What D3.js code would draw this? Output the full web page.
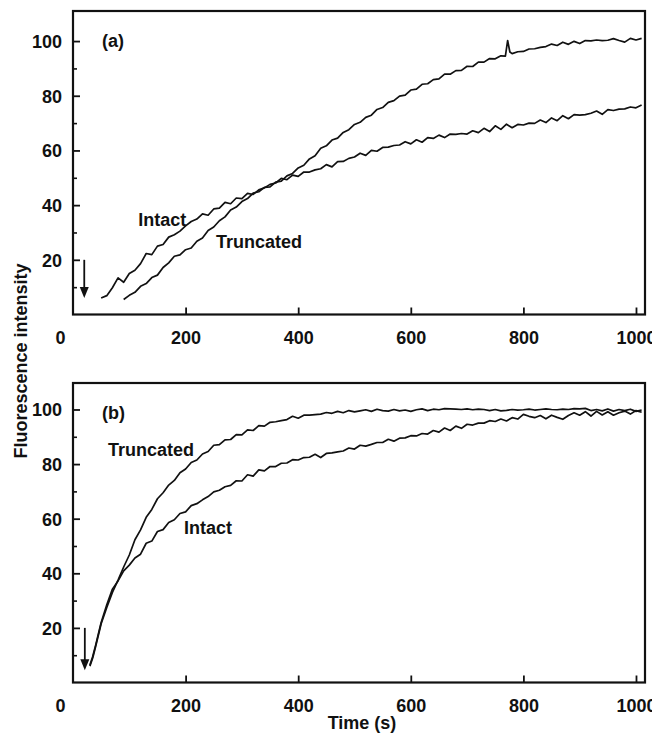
<!DOCTYPE html>
<html>
<head>
<meta charset="utf-8">
<script src="https://cdn.jsdelivr.net/npm/d3@7"></script>
<style>
  html, body { margin: 0; padding: 0; background: #fff; }
  svg text { font-family: "Liberation Sans", Arial, Helvetica, sans-serif; font-weight: bold; fill: #111; }
</style>
</head>
<body>
<svg id="chart" width="652" height="738"></svg>
<script>
// Fluorescence traces, [time (s), intensity]
const aIntact = [[50,6.0],[60,6.9],[70,9.8],[80,13.4],[90,11.8],[100,15.0],[110,16.2],[120,18.6],[130,22.3],[140,21.9],
  [150,25.0],[160,25.6],[170,28.3],[180,29.2],[190,30.5],[200,32.4],[210,34.0],[220,34.9],[230,36.8],[240,36.3],
  [250,38.6],[260,38.9],[270,41.0],[280,40.5],[290,42.6],[300,42.4],[310,44.3],[320,43.9],[330,45.6],[340,46.3],
  [350,47.6],[360,48.1],[370,49.8],[380,49.3],[390,51.0],[400,50.5],[410,52.1],[420,52.1],[430,52.9],[440,53.3],
  [450,54.8],[460,54.0],[470,55.9],[480,56.0],[490,57.1],[500,57.6],[510,59.0],[520,58.2],[530,60.0],[540,59.7],
  [550,61.1],[560,61.2],[570,61.8],[580,62.0],[590,63.2],[600,62.4],[610,63.9],[620,63.0],[630,64.7],[640,64.4],
  [650,65.6],[660,64.7],[670,66.0],[680,65.9],[690,66.2],[700,66.0],[710,67.2],[720,66.5],[730,68.1],[740,66.9],
  [750,69.0],[760,67.7],[770,69.6],[780,68.3],[790,69.5],[800,69.3],[810,70.0],[820,69.9],[830,71.1],[840,70.2],
  [850,71.9],[860,70.9],[870,72.7],[880,71.6],[890,73.1],[900,72.9],[910,73.1],[920,73.6],[930,74.4],[940,73.2],
  [950,74.9],[960,74.6],[970,75.1],[980,75.2],[990,75.9],[1000,75.6],[1010,76.6]];

const aTruncated = [[90,5.5],[100,7.0],[110,8.1],[120,10.3],[130,11.3],[140,13.5],[150,14.4],[160,17.2],[170,18.9],[180,21.3],
  [190,21.8],[200,23.7],[210,24.3],[220,26.8],[230,28.0],[240,30.7],[250,32.0],[260,34.3],[270,35.7],[280,38.2],
  [290,39.3],[300,41.3],[310,42.4],[320,44.4],[330,44.9],[340,46.5],[350,46.7],[360,48.4],[370,48.8],[380,50.7],
  [390,51.6],[400,53.6],[410,54.6],[420,56.9],[430,58.1],[440,60.8],[450,61.7],[460,63.8],[470,64.5],[480,66.6],
  [490,67.6],[500,69.5],[510,70.3],[520,72.1],[530,72.9],[540,75.0],[550,75.7],[560,77.6],[570,78.2],[580,79.9],
  [590,80.2],[600,82.1],[610,82.4],[620,84.2],[630,84.4],[640,85.9],[650,86.2],[660,87.9],[670,87.9],[680,89.2],
  [690,89.3],[700,90.8],[710,90.7],[720,92.3],[730,92.3],[740,93.6],[750,93.5],[760,94.6],[768,94.5],[772,100.2],
  [776,96.0],[780,95.4],[790,96.1],[800,96.2],[810,97.1],[820,97.2],[830,97.7],[840,98.0],[850,98.9],[860,98.4],
  [870,99.6],[880,98.8],[890,99.9],[900,99.1],[910,100.2],[920,100.1],[930,100.4],[940,100.2],[950,100.3],[960,100.9],
  [970,100.2],[980,99.6],[990,101.0],[1000,100.4],[1010,101.0]];

const bTruncated = [[30,6.0],[35,9.0],[40,13.0],[50,21.5],[60,27.5],[70,33.0],[80,37.5],[90,42.3],[100,46.7],[110,52.3],
  [120,55.9],[130,60.5],[140,63.4],[150,67.3],[160,69.5],[170,72.3],[180,74.0],[190,76.8],[200,78.2],[210,80.6],
  [220,81.5],[230,83.7],[240,84.6],[250,86.9],[260,87.1],[270,88.9],[280,89.0],[290,90.8],[300,90.7],[310,92.5],
  [320,92.3],[330,94.1],[340,93.9],[350,95.3],[360,95.5],[370,95.9],[380,96.3],[390,97.5],[400,96.8],[410,97.9],
  [420,97.9],[430,98.1],[440,98.3],[450,98.9],[460,98.6],[470,99.3],[480,98.8],[490,99.6],[500,99.1],[510,99.5],
  [520,99.9],[530,99.3],[540,100.1],[550,99.6],[560,99.4],[570,100.0],[580,99.5],[590,99.8],[600,99.3],[610,99.9],
  [620,100.2],[630,99.6],[640,100.1],[650,99.9],[660,100.3],[670,100.2],[680,100.1],[690,100.0],[700,100.2],[710,99.9],
  [720,100.1],[730,100.0],[740,99.6],[750,100.0],[760,99.5],[770,99.7],[780,100.0],[790,99.8],[800,99.9],[810,100.1],
  [820,99.8],[830,100.0],[840,100.2],[850,100.0],[860,99.9],[870,100.1],[880,100.0],[890,100.3],[900,100.2],[910,100.4],
  [920,99.6],[930,100.0],[940,99.5],[950,100.2],[960,99.4],[970,100.0],[980,99.6],[990,100.1],[1000,99.3],[1010,99.8]];

const bIntact = [[30,6.4],[35,9.5],[40,13.5],[50,22.0],[60,28.5],[70,34.2],[80,37.2],[90,40.9],[100,43.0],[110,45.6],
  [120,47.0],[130,51.0],[140,51.8],[150,55.3],[160,56.0],[170,58.6],[180,59.6],[190,61.9],[200,62.5],[210,64.8],
  [220,65.5],[230,66.9],[240,68.1],[250,69.8],[260,70.4],[270,71.7],[280,72.2],[290,73.9],[300,73.8],[310,76.1],
  [320,75.6],[330,77.9],[340,77.5],[350,79.1],[360,79.1],[370,80.3],[380,80.4],[390,81.6],[400,81.5],[410,82.4],
  [420,82.5],[430,83.6],[440,82.4],[450,83.9],[460,84.1],[470,84.5],[480,84.8],[490,85.9],[500,85.5],[510,86.9],
  [520,86.6],[530,87.2],[540,87.9],[550,87.9],[560,89.1],[570,88.4],[580,89.5],[590,89.6],[600,90.4],[610,90.3],
  [620,91.2],[630,91.0],[640,92.3],[650,91.7],[660,93.2],[670,92.3],[680,93.9],[690,93.1],[700,94.6],[710,94.3],
  [720,95.0],[730,95.0],[740,95.9],[750,95.6],[760,96.5],[770,95.8],[780,97.0],[790,96.5],[800,98.2],[810,97.5],
  [820,97.0],[830,97.8],[840,96.6],[850,97.9],[860,97.1],[870,96.4],[880,97.8],[890,98.8],[900,97.9],[910,99.2],
  [920,97.6],[930,99.3],[940,98.0],[950,99.2],[960,97.9],[970,98.8],[980,99.4],[990,98.3],[1000,99.6],[1010,99.0]];

const xTicks = [0, 200, 400, 600, 800, 1000];
const yTicks = [20, 40, 60, 80, 100];
const yMinor = [10, 30, 50, 70, 90];

// Injection arrows: [time, top value, tip value]
const aArrow = [20, 20, 6];
const bArrow = [21, 20, 4.5];

const svg = d3.select("#chart");

const panels = [
  { tag: "(a)", top: 11, bottom: 314.5, yMax: 111, series: [aIntact, aTruncated], arrow: aArrow,
    labels: [["Intact", 116, 32.5], ["Truncated", 254, 24.5]] },
  { tag: "(b)", top: 383, bottom: 682.5, yMax: 109.7, series: [bTruncated, bIntact], arrow: bArrow,
    labels: [["Truncated", 62, 83], ["Intact", 197, 54.5]] }
];

const left = 73, right = 645;
const x = d3.scaleLinear().domain([0, 1016]).range([left, right]);

panels.forEach(p => {
  const y = d3.scaleLinear().domain([0, p.yMax]).range([p.bottom, p.top]);
  const g = svg.append("g");

  // minor y ticks
  g.append("g")
    .attr("transform", `translate(${left},0)`)
    .call(d3.axisLeft(y).tickValues(yMinor).tickSize(-4).tickFormat(""))
    .call(s => s.select(".domain").remove())
    .selectAll("line").attr("stroke", "#111").attr("stroke-width", 1.6);

  // major y ticks + labels
  g.append("g")
    .attr("transform", `translate(${left},0)`)
    .call(d3.axisLeft(y).tickValues(yTicks).tickSize(-7).tickPadding(11))
    .call(s => s.select(".domain").remove())
    .call(s => s.selectAll("line").attr("stroke", "#111").attr("stroke-width", 1.8))
    .call(s => s.selectAll("text").attr("font-size", 18).attr("font-family", null).attr("dy", "0.36em"));

  // x ticks + labels
  g.append("g")
    .attr("transform", `translate(0,${p.bottom})`)
    .call(d3.axisBottom(x).tickValues(xTicks).tickSize(-7).tickPadding(17).tickFormat(d3.format("d")))
    .call(s => s.select(".domain").remove())
    .call(s => s.selectAll("line").attr("stroke", "#111").attr("stroke-width", 1.8))
    .call(s => s.selectAll("text").attr("font-size", 18).attr("font-family", null))
    .call(s => s.selectAll(".tick").filter(d => d === 0).select("text").attr("dx", -13))
    .call(s => s.selectAll(".tick").filter(d => d === 0).select("line").remove());

  // frame
  g.append("rect")
    .attr("x", left).attr("y", p.top)
    .attr("width", right - left).attr("height", p.bottom - p.top)
    .attr("fill", "none").attr("stroke", "#111").attr("stroke-width", 2.2);

  // traces
  const line = d3.line().x(d => x(d[0])).y(d => y(d[1]));
  p.series.forEach(s => {
    g.append("path").datum(s)
      .attr("d", line)
      .attr("fill", "none").attr("stroke", "#111")
      .attr("stroke-width", 1.7).attr("stroke-linejoin", "round");
  });

  // arrow
  const [at, av0, av1] = p.arrow;
  const ax = x(at), ay0 = y(av0), ay1 = y(av1);
  g.append("line").attr("x1", ax).attr("x2", ax).attr("y1", ay0).attr("y2", ay1 - 8)
    .attr("stroke", "#111").attr("stroke-width", 1.8);
  g.append("path")
    .attr("d", `M${ax - 4.5},${ay1 - 11}L${ax + 4.5},${ay1 - 11}L${ax},${ay1}Z`)
    .attr("fill", "#111");

  // panel tag
  g.append("text").attr("x", 102).attr("y", p.top + 36).attr("font-size", 18).text(p.tag);

  // trace labels
  p.labels.forEach(([txt, t, v]) => {
    g.append("text").attr("x", x(t)).attr("y", y(v)).attr("font-size", 18).text(txt);
  });
});

// axis titles
svg.append("text")
  .attr("transform", "translate(27,361) rotate(-90)")
  .attr("text-anchor", "middle").attr("font-size", 18)
  .text("Fluorescence intensity");

svg.append("text")
  .attr("x", 362).attr("y", 729)
  .attr("text-anchor", "middle").attr("font-size", 18)
  .text("Time (s)");
</script>
</body>
</html>
